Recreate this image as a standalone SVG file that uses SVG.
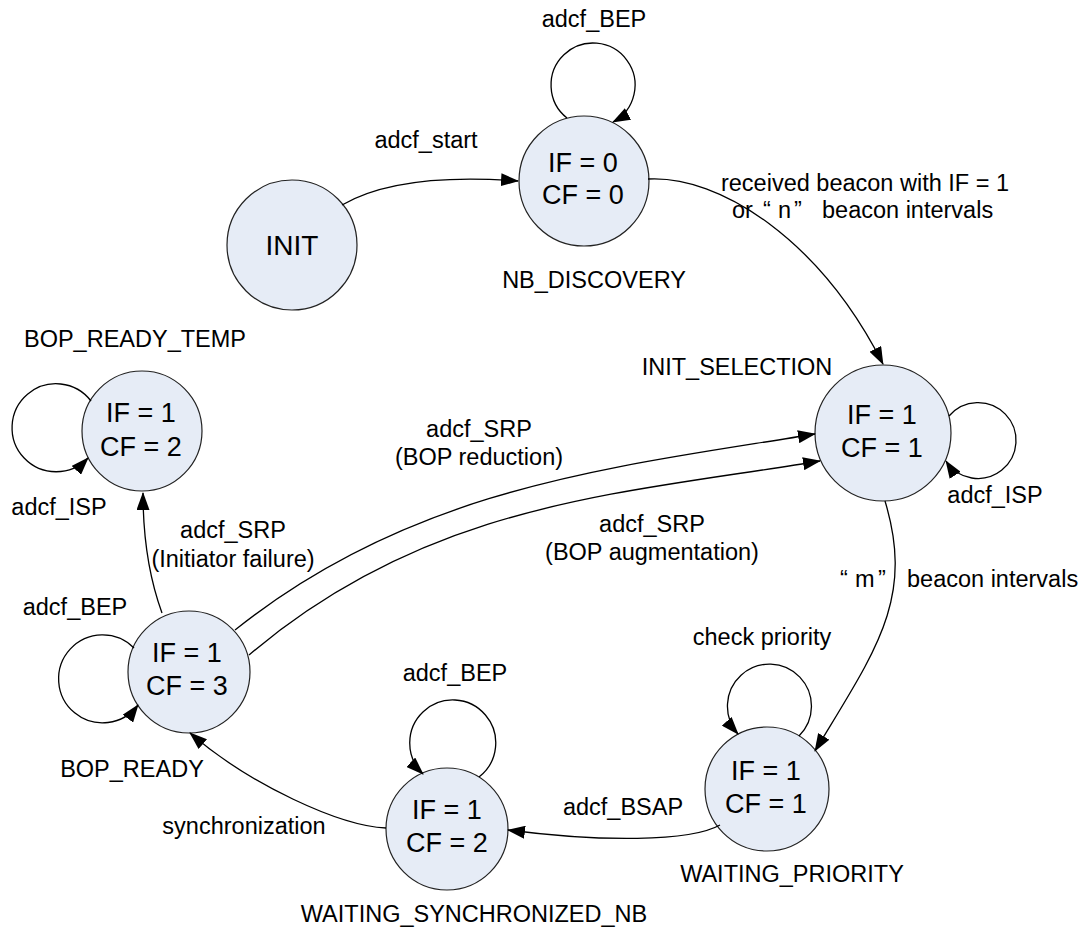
<svg xmlns="http://www.w3.org/2000/svg" width="1088" height="936" viewBox="0 0 1088 936">
<style>
.st{fill:#e6ecf6;stroke:#222;stroke-width:1.2}
.sv{font-family:"Liberation Sans",Arial,sans-serif;font-size:27px;fill:#000;text-anchor:middle}
.lb{font-family:"Liberation Sans",Arial,sans-serif;font-size:23.5px;fill:#000;text-anchor:middle}
.ls{font-family:"Liberation Sans",Arial,sans-serif;font-size:23.5px;fill:#000}
.ed{fill:none;stroke:#000;stroke-width:1.3;marker-end:url(#ah)}
</style>
<defs>
<marker id="ah" markerWidth="18" markerHeight="13" refX="17" refY="6.5" orient="auto" markerUnits="userSpaceOnUse" viewBox="0 0 18 13">
<path d="M0,0 L18,6.5 L0,13 Z" fill="#000"/>
</marker>
</defs>
<rect width="1088" height="936" fill="#fff"/>

<g id="INIT">
<circle class="st" cx="292" cy="245" r="65"/>
<text class="sv" x="292" y="255" style="font-size:28px">INIT</text>
</g>

<g id="NB_DISCOVERY">
<circle class="st" cx="584" cy="181" r="65"/>
<text class="sv" x="583" y="172">IF = 0</text>
<text class="sv" x="583" y="204">CF = 0</text>
<text class="lb" x="594" y="288">NB_DISCOVERY</text>
</g>

<g id="INIT_SELECTION">
<circle class="st" cx="883" cy="433" r="68"/>
<text class="sv" x="882" y="424">IF = 1</text>
<text class="sv" x="882" y="457">CF = 1</text>
<text class="lb" x="737" y="375">INIT_SELECTION</text>
</g>

<g id="BOP_READY_TEMP">
<circle class="st" cx="142" cy="431" r="60"/>
<text class="sv" x="141" y="422">IF = 1</text>
<text class="sv" x="141" y="456">CF = 2</text>
<text class="lb" x="135" y="347">BOP_READY_TEMP</text>
</g>

<g id="BOP_READY">
<circle class="st" cx="189" cy="672" r="61"/>
<text class="sv" x="187" y="662">IF = 1</text>
<text class="sv" x="187" y="695">CF = 3</text>
<text class="lb" x="132" y="777">BOP_READY</text>
</g>

<g id="WAITING_SYNCHRONIZED_NB">
<circle class="st" cx="447" cy="829" r="61"/>
<text class="sv" x="447" y="819">IF = 1</text>
<text class="sv" x="447" y="852">CF = 2</text>
<text class="lb" x="474" y="922">WAITING_SYNCHRONIZED_NB</text>
</g>

<g id="WAITING_PRIORITY">
<circle class="st" cx="767" cy="789" r="62"/>
<text class="sv" x="766" y="780">IF = 1</text>
<text class="sv" x="766" y="813">CF = 1</text>
<text class="lb" x="792" y="882">WAITING_PRIORITY</text>
</g>

<g id="connectors">
<path class="ed" d="M342,205 C385,180 450,176 518,181"/>
<path class="ed" d="M567,118 A42,42 0 1 1 613,122"/>
<path class="ed" d="M648,179 C720,175 820,240 883,364"/>
<path class="ed" d="M949,416 A38,38 0 1 1 946,461"/>
<path class="ed" d="M91,401 A44,44 0 1 0 88,458"/>
<path class="ed" d="M134,648 A44,44 0 1 0 138,705"/>
<path class="ed" d="M162,613 C150,580 143,540 143,493"/>
<path class="ed" d="M235,630 C415,486 615,467 815,434"/>
<path class="ed" d="M249,655 C429,502 620,494 820,461"/>
<path class="ed" d="M885,501 C915,600 875,651 815,751"/>
<path class="ed" d="M799,736 A42,42 0 1 0 738,734"/>
<path class="ed" d="M720,825 C690,842 600,842 508,830"/>
<path class="ed" d="M479,777 A43,43 0 1 0 423,774"/>
<path class="ed" d="M386,828 C340,826 250,785 190,733"/>
</g>

<g id="labels">
<text class="lb" x="594" y="27">adcf_BEP</text>
<text class="lb" x="426" y="148">adcf_start</text>
<text class="lb" x="865" y="191">received beacon with IF = 1</text>
<text class="ls" y="218"><tspan x="732">or</tspan><tspan x="763">“</tspan><tspan x="778">n</tspan><tspan x="794">”</tspan><tspan x="822">beacon intervals</tspan></text>
<text class="lb" x="995" y="503">adcf_ISP</text>
<text class="lb" x="59" y="515">adcf_ISP</text>
<text class="lb" x="233" y="538">adcf_SRP</text>
<text class="lb" x="233" y="567">(Initiator failure)</text>
<text class="lb" x="479" y="437">adcf_SRP</text>
<text class="lb" x="479" y="465">(BOP reduction)</text>
<text class="lb" x="652" y="532">adcf_SRP</text>
<text class="lb" x="652" y="560">(BOP augmentation)</text>
<text class="ls" y="587"><tspan x="840">“</tspan><tspan x="855">m</tspan><tspan x="878">”</tspan><tspan x="907">beacon intervals</tspan></text>
<text class="lb" x="75" y="615">adcf_BEP</text>
<text class="lb" x="762" y="645">check priority</text>
<text class="lb" x="455" y="681">adcf_BEP</text>
<text class="lb" x="623" y="815">adcf_BSAP</text>
<text class="lb" x="244" y="834">synchronization</text>
</g>
</svg>
